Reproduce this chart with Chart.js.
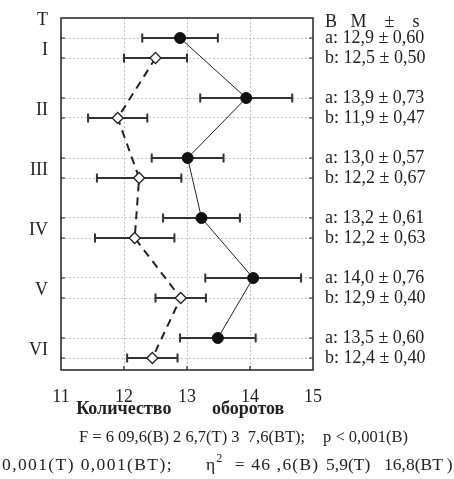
<!DOCTYPE html>
<html><head><meta charset="utf-8">
<script src="https://cdn.jsdelivr.net/npm/chart.js@4"></script>
<style>
html,body{margin:0;padding:0;background:#fff;}
#wrap{position:relative;width:454px;height:479px;overflow:hidden;}
#c{position:absolute;left:0;top:0;}
.ln{position:absolute;white-space:pre;font-family:"Liberation Serif","Times New Roman",serif;color:#222;line-height:1;}
.l1{font-size:16.5px;top:429px;}
.l2{font-size:17.5px;top:456px;}
sup{font-size:12px;vertical-align:0;position:relative;top:-8px;}
</style></head>
<body><div id="wrap"><canvas id="c" width="454" height="479" style="width:454px;height:479px"></canvas>
<div class="ln l1" style="left:79px;">F = 6 09,6(B) 2 6,7(T) 3  7,6(BT);</div>
<div class="ln l1" style="left:323px;">p &lt; 0,001(B)</div>
<div class="ln l2" style="left:2px;letter-spacing:1.4px;">0,001(T) 0,001(BT);</div>
<div class="ln l2" style="left:206px;letter-spacing:1.2px;">η<sup>2</sup>  = 46 ,6(B)</div>
<div class="ln l2" style="left:326px;">5,9(T)</div>
<div class="ln l2" style="left:384px;">16,8(BT )</div>
</div>
<script>
const groups = ['I','II','III','IV','V','VI'];
const meanA = [12.89, 13.94, 13.01, 13.23, 14.05, 13.49];
const sdA   = [0.60, 0.73, 0.57, 0.61, 0.76, 0.60];
const meanB = [12.50, 11.90, 12.24, 12.17, 12.90, 12.45];
const sdB   = [0.50, 0.47, 0.67, 0.63, 0.40, 0.40];
const labelA = ['12,9 ± 0,60','13,9 ± 0,73','13,0 ± 0,57','13,2 ± 0,61','14,0 ± 0,76','13,5 ± 0,60'];
const labelB = ['12,5 ± 0,50','11,9 ± 0,47','12,2 ± 0,67','12,2 ± 0,63','12,9 ± 0,40','12,4 ± 0,40'];
const xTicks = [11, 12, 13, 14, 15];
const rowA = groups.map((g, i) => 1 + 3 * i);
const rowB = groups.map((g, i) => 2 + 3 * i);
const rows = rowA.concat(rowB);

const FONT = '"Liberation Serif","Times New Roman",serif';
const INK = '#222';
const NB = '\u00A0';

const leftDefs = [{v: 0.1, t: 'T'}]
  .concat(rows.map(v => ({v, t: ''})))
  .concat(groups.map((g, i) => ({v: 1.5 + 3 * i + 0.12, t: g})));
const rightDefs = [{v: 0.2, t: 'B' + NB.repeat(3) + 'M' + NB.repeat(4) + '±' + NB.repeat(4) + 's'}]
  .concat(rowA.map((v, i) => ({v, t: 'a: ' + labelA[i]})))
  .concat(rowB.map((v, i) => ({v, t: 'b: ' + labelB[i]})));

const gridColor = ctx => rows.includes(ctx.tick.value) ? '#c4c4c4' : 'rgba(0,0,0,0)';

const errorBars = {
  id: 'errorBars',
  beforeDatasetsDraw(chart) {
    const {ctx, scales: {x, y}} = chart;
    ctx.save();
    ctx.strokeStyle = '#333';
    ctx.lineWidth = 2;
    [[meanA, sdA, rowA], [meanB, sdB, rowB]].forEach(([m, s, r]) => {
      m.forEach((v, i) => {
        const x0 = x.getPixelForValue(v - s[i]);
        const x1 = x.getPixelForValue(v + s[i]);
        const py = y.getPixelForValue(r[i]);
        ctx.beginPath();
        ctx.moveTo(x0, py); ctx.lineTo(x1, py);
        ctx.moveTo(x0, py - 4.5); ctx.lineTo(x0, py + 4.5);
        ctx.moveTo(x1, py - 4.5); ctx.lineTo(x1, py + 4.5);
        ctx.stroke();
      });
    });
    ctx.restore();
  }
};

const frame = {
  id: 'frame',
  afterDatasetsDraw(chart) {
    const {ctx, chartArea: a, scales: {x, y}} = chart;
    ctx.save();
    ctx.strokeStyle = INK;
    ctx.lineWidth = 1.5;
    ctx.strokeRect(a.left, a.top, a.right - a.left, a.bottom - a.top);
    ctx.lineWidth = 1.2;
    ctx.beginPath();
    rows.forEach(v => {
      const py = y.getPixelForValue(v);
      ctx.moveTo(a.left, py); ctx.lineTo(a.left + 4, py);
      ctx.moveTo(a.right, py); ctx.lineTo(a.right - 4, py);
    });
    xTicks.slice(1, -1).forEach(v => {
      const px = x.getPixelForValue(v);
      ctx.moveTo(px, a.bottom); ctx.lineTo(px, a.bottom - 4);
    });
    ctx.stroke();
    ctx.restore();
  }
};

new Chart(document.getElementById('c'), {
  type: 'scatter',
  data: {
    datasets: [
      {
        label: 'a',
        data: meanA.map((m, i) => ({x: m, y: rowA[i]})),
        showLine: true,
        borderColor: INK,
        borderWidth: 1,
        pointStyle: 'circle',
        pointRadius: 5.5,
        pointBackgroundColor: '#111',
        pointBorderColor: '#111',
        pointBorderWidth: 1
      },
      {
        label: 'b',
        data: meanB.map((m, i) => ({x: m, y: rowB[i]})),
        showLine: true,
        borderColor: INK,
        borderWidth: 2,
        borderDash: [8, 6],
        pointStyle: 'rectRot',
        pointRadius: 5.5,
        pointBackgroundColor: '#fff',
        pointBorderColor: INK,
        pointBorderWidth: 1.3
      }
    ]
  },
  options: {
    responsive: false,
    animation: false,
    devicePixelRatio: 1,
    layout: {padding: {top: 18, bottom: 59, left: 0, right: 0}},
    plugins: {legend: {display: false}, tooltip: {enabled: false}},
    scales: {
      x: {
        type: 'linear', position: 'bottom', min: 11, max: 15,
        afterBuildTicks: s => { s.ticks = xTicks.map(v => ({value: v})); },
        afterFit: s => { s.height = 50; s.paddingLeft = 0; s.paddingRight = 0; },
        grid: {color: c => (c.tick.value > 11 && c.tick.value < 15) ? '#c4c4c4' : 'rgba(0,0,0,0)', drawTicks: false},
        border: {display: false, dash: [2, 2]},
        ticks: {padding: 16, color: INK, font: {family: FONT, size: 18}, autoSkip: false, maxRotation: 0},
        title: {display: true, text: 'Количество' + NB.repeat(9) + 'оборотов' + NB.repeat(3), color: INK, font: {family: FONT, size: 18, weight: 'bold'}, padding: {top: 0, bottom: 0}}
      },
      y: {
        type: 'linear', position: 'left', min: 0, max: 17.6, reverse: true,
        afterBuildTicks: s => { s.ticks = leftDefs.map(d => ({value: d.v})); },
        afterFit: s => { s.width = 61; s.paddingTop = 0; s.paddingBottom = 0; },
        grid: {color: gridColor, drawTicks: false},
        border: {display: false, dash: [2, 2]},
        ticks: {
          padding: 13, color: INK, font: {family: FONT, size: 18}, autoSkip: false,
          callback: (v, i) => leftDefs[i].t
        }
      },
      y2: {
        type: 'linear', position: 'right', min: 0, max: 17.6, reverse: true,
        afterBuildTicks: s => { s.ticks = rightDefs.map(d => ({value: d.v})); },
        afterFit: s => { s.width = 141; s.paddingTop = 0; s.paddingBottom = 0; },
        grid: {display: false, drawTicks: false},
        border: {display: false},
        ticks: {
          padding: 12, color: INK, font: {family: FONT, size: 18}, autoSkip: false,
          callback: (v, i) => rightDefs[i].t
        }
      }
    }
  },
  plugins: [errorBars, frame]
});
</script>
</body></html>
